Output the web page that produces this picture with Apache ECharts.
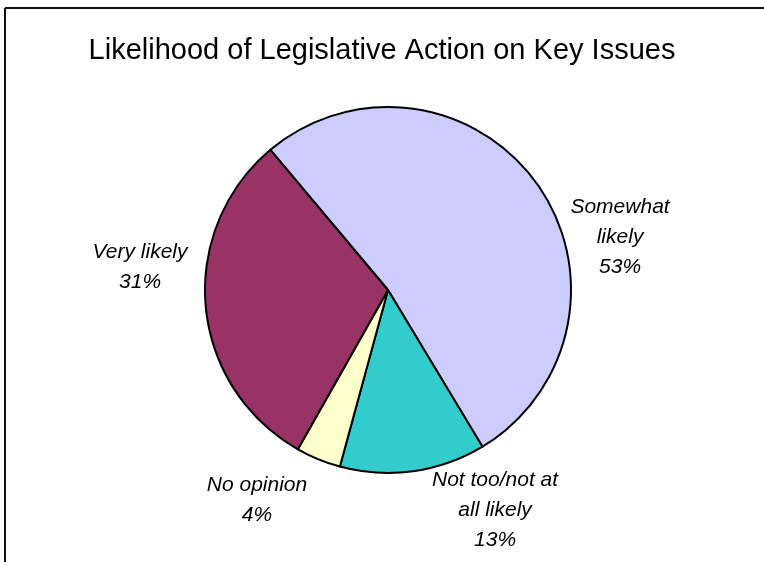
<!DOCTYPE html>
<html>
<head>
<meta charset="utf-8">
<script src="https://cdn.jsdelivr.net/npm/echarts@6/dist/echarts.min.js"></script>
<style>
  html, body { margin: 0; padding: 0; background: #ffffff; }
  #chart { width: 764px; height: 562px; }
</style>
</head>
<body>
<div id="chart"></div>
<script>
// Survey answers, in clockwise order starting from the upper left edge
const categories = ['Somewhat\nlikely', 'Not too/not at\nall likely', 'No opinion', 'Very likely'];
const shares = [53, 13, 4, 31];
const sliceColors = ['#CCCCFF', '#33CCCC', '#FFFFCC', '#993366'];

// Pie geometry and label placement (label offsets are in units of the radius)
const pieCenter = [388, 290];
const pieRadius = 183;
const labelOffsets = [
  [1.268, -0.29],
  [0.585, 1.202],
  [-0.716, 1.148],
  [-1.355, -0.126]
];

const chart = echarts.init(document.getElementById('chart'), null, { renderer: 'canvas' });

const option = {
  animation: false,
  backgroundColor: '#ffffff',
  title: {
    text: 'Likelihood of Legislative Action on Key Issues',
    left: 'center',
    top: 31,
    textStyle: {
      fontFamily: 'Liberation Sans, Arial, sans-serif',
      fontSize: 29,
      fontWeight: 'normal',
      color: '#000000'
    }
  },
  graphic: [
    { type: 'line', shape: { x1: 5, y1: 8, x2: 764, y2: 8 }, style: { stroke: '#111111', lineWidth: 2 } },
    { type: 'line', shape: { x1: 5, y1: 8, x2: 5, y2: 562 }, style: { stroke: '#111111', lineWidth: 2 } }
  ],
  series: [{
    type: 'pie',
    center: pieCenter,
    radius: pieRadius,
    startAngle: 130,
    clockwise: true,
    silent: true,
    data: categories.map((name, i) => ({
      name: name,
      value: shares[i],
      itemStyle: { color: sliceColors[i] }
    })),
    itemStyle: { borderColor: '#000000', borderWidth: 2 },
    label: {
      show: true,
      position: 'outside',
      formatter: p => p.name + '\n' + p.value + '%',
      fontFamily: 'Liberation Sans, Arial, sans-serif',
      fontStyle: 'italic',
      fontSize: 21,
      lineHeight: 30,
      color: '#000000',
      align: 'center'
    },
    labelLine: { show: false },
    labelLayout: function (params) {
      const off = labelOffsets[params.dataIndex];
      return {
        x: pieCenter[0] + off[0] * pieRadius,
        y: pieCenter[1] + off[1] * pieRadius,
        align: 'center',
        verticalAlign: 'middle'
      };
    },
    emphasis: { disabled: true }
  }]
};

chart.setOption(option);
</script>
</body>
</html>
